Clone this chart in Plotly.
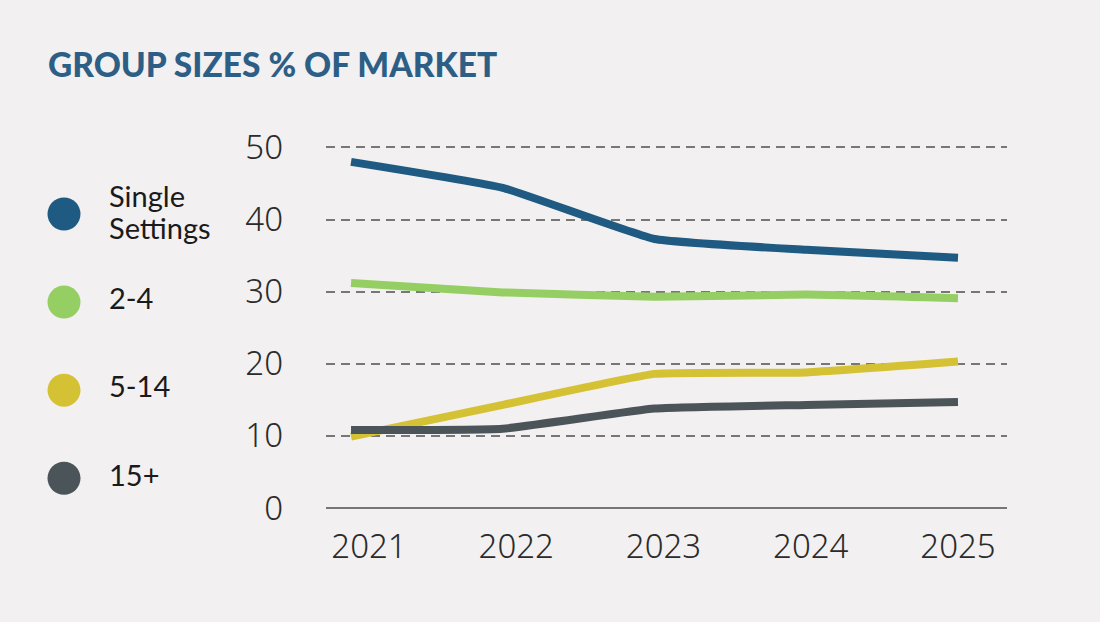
import plotly.graph_objects as go

years = ["2021", "2022", "2023", "2024", "2025"]
series_names = ["Single Settings", "2-4", "5-14", "15+"]
legend_lines = [["Single", "Settings"], ["2-4"], ["5-14"], ["15+"]]
single_settings = [48.0, 44.4, 37.3, 35.8, 34.7]
size_2_4 = [31.2, 29.9, 29.3, 29.6, 29.1]
size_5_14 = [9.9, 14.3, 18.6, 18.8, 20.3]
size_15_plus = [10.8, 11.0, 13.8, 14.3, 14.7]
y_ticks = [0, 10, 20, 30, 40, 50]

colors = ["#1f5a82", "#95cf63", "#d4c234", "#4b5459"]
all_series = [single_settings, size_2_4, size_5_14, size_15_plus]

W, H = 1100, 622
ML, MR, MT, MB = 0, 93, 133, 114
plot_w = W - ML - MR
x_dom0 = 326 / plot_w

fig = go.Figure()

for name, vals, col in zip(series_names, all_series, colors):
    fig.add_trace(go.Scatter(
        x=years, y=vals, mode="lines", name=name,
        line=dict(color=col, width=8, shape="spline", smoothing=0.35),
        showlegend=False, hoverinfo="skip",
    ))

# invisible carrier trace so the year-label axis gets its categories
fig.add_trace(go.Scatter(
    x=years, y=single_settings, mode="lines", opacity=0,
    line=dict(width=0), xaxis="x3", yaxis="y",
    showlegend=False, hoverinfo="skip",
))

# custom legend drawn on its own axes
n = len(series_names)
legend_idx = list(range(n))[::-1]
fig.add_trace(go.Scatter(
    x=[64] * n, y=legend_idx, mode="markers",
    marker=dict(size=33, color=colors, line=dict(width=0)),
    xaxis="x2", yaxis="y2", showlegend=False, hoverinfo="skip",
))
txt_x, txt_y, txt = [], [], []
line_gap = 0.37
for idx, lines in zip(legend_idx, legend_lines):
    k = len(lines)
    for j, ln in enumerate(lines):
        txt_x.append(109)
        txt_y.append(idx + ((k - 1) / 2 - j) * line_gap - 0.02 * (k - 1))
        txt.append(ln)
fig.add_trace(go.Scatter(
    x=txt_x, y=txt_y, mode="text",
    text=txt, textposition="middle right",
    textfont=dict(family="Lato", size=29, color="#1a1a1a"),
    xaxis="x2", yaxis="y2", showlegend=False, hoverinfo="skip",
))

tick_font = dict(family="Noto Sans", size=33, color="#2b2b2b", weight=300)

fig.update_layout(
    width=W, height=H,
    margin=dict(l=ML, r=MR, t=MT, b=MB, autoexpand=False),
    paper_bgcolor="#f2f0f0", plot_bgcolor="#f2f0f0",
    title=dict(
        text="GROUP SIZES % OF MARKET",
        font=dict(family="Lato", size=33.5, color="#2d5f86", weight=900),
        x=48 / W, xanchor="left", y=1 - 65 / H, yanchor="middle",
    ),
    xaxis=dict(
        domain=[x_dom0, 1], type="category",
        range=[-0.165, 4.323], automargin=False,
        showgrid=False, zeroline=False,
        showline=False, ticks="", showticklabels=False,
    ),
    # label axis: the year labels sit on a slightly narrower spacing than the data
    xaxis3=dict(
        overlaying="x", anchor="y", side="bottom", type="category",
        categoryorder="array", categoryarray=years,
        range=[-0.292, 4.333], automargin=False,
        showgrid=False, zeroline=False, showline=False, ticks="",
        tickfont=tick_font, ticklabelstandoff=16, fixedrange=True,
    ),
    yaxis=dict(
        range=[0, 52], tickvals=y_ticks, automargin=False,
        showgrid=True, gridcolor="#777777", gridwidth=2, griddash="9px,6px",
        zeroline=True, zerolinecolor="#777777", zerolinewidth=2,
        showline=False, ticks="",
        tickfont=tick_font,
        ticklabelstandoff=42,
    ),
    xaxis2=dict(domain=[0, 0.3], range=[0, 0.3 * plot_w], visible=False,
                fixedrange=True, automargin=False),
    yaxis2=dict(domain=[0, 1], range=[-0.3375, 3.92], visible=False,
                anchor="x2", fixedrange=True, automargin=False),
)

fig.write_html(
    "out.html",
    config={"displayModeBar": False},
    post_script="document.body.style.margin='0';document.body.style.overflow='hidden';",
)
